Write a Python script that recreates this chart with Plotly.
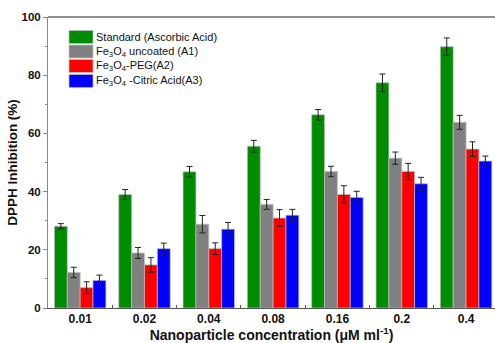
import plotly.graph_objects as go

categories = ["0.01", "0.02", "0.04", "0.08", "0.16", "0.2", "0.4"]
series_names = [
    "Standard (Ascorbic Acid)",
    "Fe<sub>3</sub>O<sub>4</sub> uncoated (A1)",
    "Fe<sub>3</sub>O<sub>4</sub>-PEG(A2)",
    "Fe<sub>3</sub>O<sub>4</sub> -Citric Acid(A3)",
]
standard = [28.1, 39.0, 46.8, 55.6, 66.4, 77.4, 89.8]
standard_err = [0.9, 1.7, 1.8, 2.0, 1.8, 3.0, 3.0]
uncoated = [12.2, 18.9, 28.8, 35.6, 46.9, 51.5, 63.8]
uncoated_err = [1.8, 1.9, 3.0, 1.7, 1.8, 2.1, 2.4]
peg = [7.0, 14.8, 20.4, 30.9, 39.0, 46.9, 54.6]
peg_err = [2.0, 2.5, 2.0, 2.9, 3.0, 2.8, 2.5]
citric = [9.5, 20.4, 27.1, 31.9, 38.0, 42.7, 50.5]
citric_err = [1.8, 1.9, 2.3, 2.0, 2.1, 2.2, 1.7]

colors = ["#008c00", "#808080", "#ff0000", "#0000ff"]
values = [standard, uncoated, peg, citric]
errors = [standard_err, uncoated_err, peg_err, citric_err]

fig = go.Figure()
for name, v, e, c in zip(series_names, values, errors, colors):
    fig.add_trace(go.Bar(
        x=categories, y=v, name=name,
        marker=dict(color=c, line=dict(color="rgba(190,190,190,0.9)", width=0.8)),
        error_y=dict(type="data", array=e, color="#222222", thickness=1, width=3),
        showlegend=False,
    ))

# manual legend
W, H = 495, 343
ml, mr, mt, mb = 48, 0, 17, 35
pw, ph = W - ml - mr, H - mt - mb
def px2paper_x(x):
    return (x - ml) / pw
def px2paper_y(y):
    return 1 - (y - mt) / ph

shapes = []
annotations = []
rows = [37, 51.5, 66, 81]
for name, c, ry in zip(series_names, colors, rows):
    shapes.append(dict(type="rect", xref="paper", yref="paper",
                       x0=px2paper_x(69), x1=px2paper_x(93),
                       y0=px2paper_y(ry + 6.5), y1=px2paper_y(ry - 6.5),
                       fillcolor=c, line=dict(color="rgba(190,190,190,0.9)", width=0.8)))
    annotations.append(dict(xref="paper", yref="paper", x=px2paper_x(94), y=px2paper_y(ry),
                            text=name, showarrow=False, xanchor="left", yanchor="middle",
                            font=dict(family="Liberation Sans, Arial", size=11, color="#111")))

# top frame line
shapes.append(dict(type="line", xref="paper", yref="paper", x0=0, x1=1, y0=1, y1=1,
                   line=dict(color="#222", width=1)))

fig.update_layout(
    width=W, height=H,
    margin=dict(l=ml, r=mr, t=mt, b=mb),
    paper_bgcolor="white", plot_bgcolor="white",
    barmode="group", bargap=0.2, bargroupgap=0,
    shapes=shapes, annotations=annotations,
    font=dict(family="Liberation Sans, Arial", color="#111"),
    xaxis=dict(
        range=[-0.5, 6.45], showline=True, linecolor="#555", linewidth=1,
        ticks="inside", ticklen=3, tickcolor="#555", tickson="boundaries",
        tickfont=dict(size=12, family="Liberation Sans, Arial", weight="bold"),
        title=dict(text="Nanoparticle concentration (μM ml<sup>-1</sup>)",
                   font=dict(size=14, weight="bold"), standoff=2),
        showgrid=False,
    ),
    yaxis=dict(
        range=[0, 100], showline=True, linecolor="#888", linewidth=1,
        ticks="outside", ticklen=4, tickcolor="#888", dtick=20,
        minor=dict(ticks="outside", ticklen=2, dtick=10, tickcolor="#888"),
        tickfont=dict(size=11.5, family="Liberation Sans, Arial", weight="bold"),
        title=dict(text="DPPH Inhibition (%)", font=dict(size=13.5, weight="bold"), standoff=0),
        showgrid=False, zeroline=False,
    ),
)

fig.write_html("out.html")
